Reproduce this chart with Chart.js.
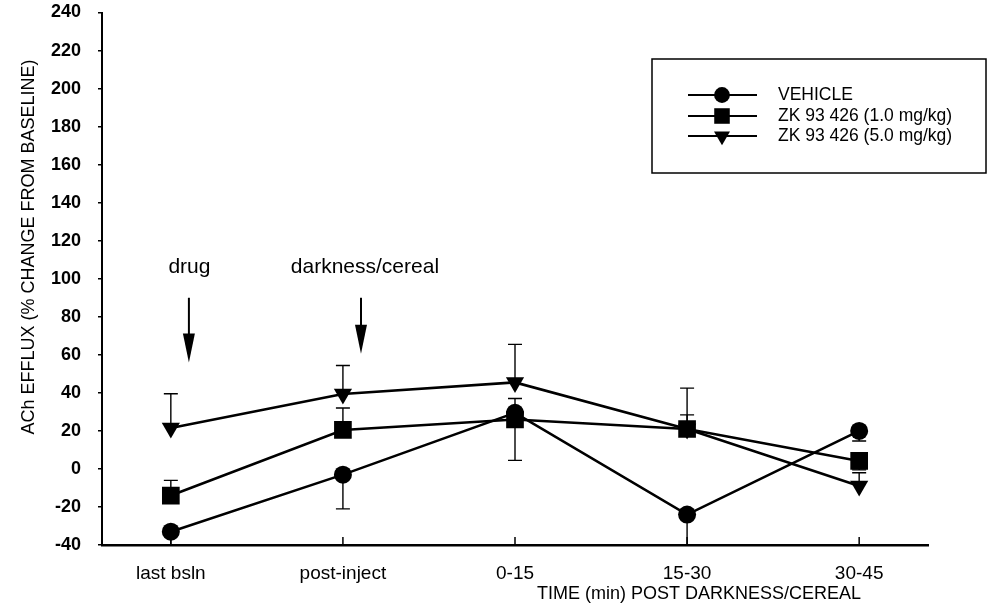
<!DOCTYPE html>
<html><head><meta charset="utf-8">
<script src="https://cdn.jsdelivr.net/npm/chart.js@4/dist/chart.umd.min.js"></script>
<style>html,body{margin:0;padding:0;background:#fff}#wrap{width:989px;height:613px;position:relative}</style>
</head><body><div id="wrap"><canvas id="c"></canvas></div>
<script>
const categories = ['last bsln', 'post-inject', '0-15', '15-30', '30-45'];
const seriesLabels = ['VEHICLE', 'ZK 93 426 (1.0 mg/kg)', 'ZK 93 426 (5.0 mg/kg)'];
const vehicle = [-33, -3, 29.5, -24, 20];
const vehicleErrUp = [0, 0, 0, 0, 0];
const vehicleErrDown = [7, 18, 25, 16, 5.3];
const zk1 = [-14, 20.5, 26, 21, 4.2];
const zk1ErrUp = [8, 11.5, 11, 7.4, 0];
const zk1ErrDown = [0, 0, 0, 0, 4.7];
const zk5 = [21.5, 39.4, 45.5, 21, -9];
const zk5ErrUp = [18, 15, 20, 21.5, 7];
const zk5ErrDown = [0, 0, 0, 0, 0];
const yTickMin = -40, yTickMax = 240, yTickStep = 20;
const yTitle = 'ACh EFFLUX (% CHANGE FROM BASELINE)';
const xTitle = 'TIME (min) POST DARKNESS/CEREAL';
const eventLabels = ['drug', 'darkness/cereal'];

const FONT = "'Liberation Sans', Arial, Helvetica, sans-serif";
const toPts = arr => arr.map((v, i) => ({x: i, y: v}));
const errs = [[vehicleErrUp, vehicleErrDown], [zk1ErrUp, zk1ErrDown], [zk5ErrUp, zk5ErrDown]];

const markerStyles = [
  {pointStyle: 'circle', radius: 9, rotation: 0},
  {pointStyle: 'rect', radius: 12.5, rotation: 0},
  {pointStyle: 'triangle', radius: 10.5, rotation: 180}
];
const seriesData = [vehicle, zk1, zk5];

const datasets = seriesData.map((d, i) => ({
  label: seriesLabels[i],
  data: toPts(d),
  borderColor: '#000',
  backgroundColor: '#000',
  borderWidth: 2.6,
  pointStyle: markerStyles[i].pointStyle,
  pointRadius: markerStyles[i].radius,
  pointRotation: markerStyles[i].rotation,
  pointBackgroundColor: '#000',
  pointBorderColor: '#000',
  pointBorderWidth: 0,
  tension: 0,
  fill: false
}));

const overlay = {
  id: 'overlay',
  beforeDatasetsDraw(chart) {
    const ctx = chart.ctx, ys = chart.scales.y, a = chart.chartArea;
    ctx.save();
    ctx.beginPath();
    ctx.rect(a.left, a.top - 5, a.right - a.left, a.bottom - a.top + 5);
    ctx.clip();
    ctx.strokeStyle = '#000';
    ctx.lineWidth = 1.4;
    chart.data.datasets.forEach((ds, i) => {
      const meta = chart.getDatasetMeta(i);
      ds.data.forEach((p, j) => {
        const px = meta.data[j].x, py = meta.data[j].y;
        const up = errs[i][0][j], dn = errs[i][1][j];
        [[up, 1], [dn, -1]].forEach(([e, s]) => {
          if (!e) return;
          const ey = ys.getPixelForValue(p.y + s * e);
          ctx.beginPath();
          ctx.moveTo(px, py); ctx.lineTo(px, ey);
          ctx.moveTo(px - 7, ey); ctx.lineTo(px + 7, ey);
          ctx.stroke();
        });
      });
    });
    ctx.restore();
  },
  afterDraw(chart) {
    const ctx = chart.ctx, ys = chart.scales.y, xs = chart.scales.x, a = chart.chartArea;
    ctx.save();
    ctx.fillStyle = '#000';
    ctx.strokeStyle = '#000';
    ctx.lineWidth = 1.5;
    categories.forEach((c, i) => {
      const x = xs.getPixelForValue(i);
      ctx.beginPath(); ctx.moveTo(x, a.bottom); ctx.lineTo(x, a.bottom - 8); ctx.stroke();
    });
    ctx.font = '18px ' + FONT;
    ctx.textAlign = 'center';
    ctx.textBaseline = 'middle';
    ctx.fillText(xTitle, 699, 594);
    ctx.save();
    ctx.translate(29, 247);
    ctx.rotate(-Math.PI / 2);
    ctx.fillText(yTitle, 0, 0);
    ctx.restore();
    const ev = [
      {label: eventLabels[0], x: 0.105, top: 90, tip: 56, tx: 0.108},
      {label: eventLabels[1], x: 1.105, top: 90, tip: 60.5, tx: 1.128}
    ];
    ctx.font = '21px ' + FONT;
    ctx.textBaseline = 'alphabetic';
    ev.forEach(e => {
      const x = xs.getPixelForValue(e.x);
      const y0 = ys.getPixelForValue(e.top), y1 = ys.getPixelForValue(e.tip);
      ctx.fillText(e.label, xs.getPixelForValue(e.tx), ys.getPixelForValue(103));
      ctx.lineWidth = 2;
      ctx.beginPath(); ctx.moveTo(x, y0); ctx.lineTo(x, y1 - 20); ctx.stroke();
      ctx.beginPath();
      ctx.moveTo(x - 6, y1 - 29); ctx.lineTo(x + 6, y1 - 29); ctx.lineTo(x, y1); ctx.closePath();
      ctx.fill();
    });
    ctx.lineWidth = 1.5;
    ctx.strokeRect(652, 59, 334, 114);
    ctx.font = '17.5px ' + FONT;
    ctx.textAlign = 'left';
    ctx.textBaseline = 'middle';
    const rows = [95, 116, 136];
    chart.data.datasets.forEach((ds, i) => {
      const y = rows[i];
      ctx.lineWidth = 2;
      ctx.beginPath(); ctx.moveTo(688, y); ctx.lineTo(757, y); ctx.stroke();
      Chart.helpers.drawPoint(ctx, {
        pointStyle: markerStyles[i].pointStyle,
        radius: markerStyles[i].radius * 0.88,
        rotation: markerStyles[i].rotation,
        borderWidth: 0
      }, 722, y);
      ctx.fillText(ds.label, 778, y);
    });
    ctx.restore();
  }
};

new Chart(document.getElementById('c'), {
  type: 'line',
  data: {datasets},
  plugins: [overlay],
  options: {
    responsive: true,
    maintainAspectRatio: false,
    animation: false,
    events: [],
    layout: {padding: {top: 12, right: 61, left: 0, bottom: 0}},
    plugins: {legend: {display: false}, tooltip: {enabled: false}, title: {display: false}},
    scales: {
      x: {
        type: 'linear',
        min: -0.4,
        max: 4.4,
        afterBuildTicks: s => { s.ticks = categories.map((c, i) => ({value: i})); },
        afterFit: s => { s.height = 68; s.paddingLeft = 0; s.paddingRight = 0; },
        ticks: {
          callback: v => categories[v] ?? '',
          font: {family: FONT, size: 19},
          color: '#000',
          padding: 17,
          maxRotation: 0,
          autoSkip: false
        },
        grid: {display: false, drawTicks: false},
        border: {display: true, color: '#000', width: 2.5}
      },
      y: {
        min: yTickMin,
        max: yTickMax,
        afterFit: s => { s.width = 102; s.paddingTop = 0; s.paddingBottom = 0; },
        ticks: {
          stepSize: yTickStep,
          font: {family: FONT, size: 18, weight: 'bold'},
          color: '#000',
          padding: 17
        },
        grid: {display: true, drawOnChartArea: false, drawTicks: true, tickLength: 4, color: '#000', lineWidth: 1.5},
        border: {display: true, color: '#000', width: 2}
      }
    }
  }
});
</script>
</body></html>
